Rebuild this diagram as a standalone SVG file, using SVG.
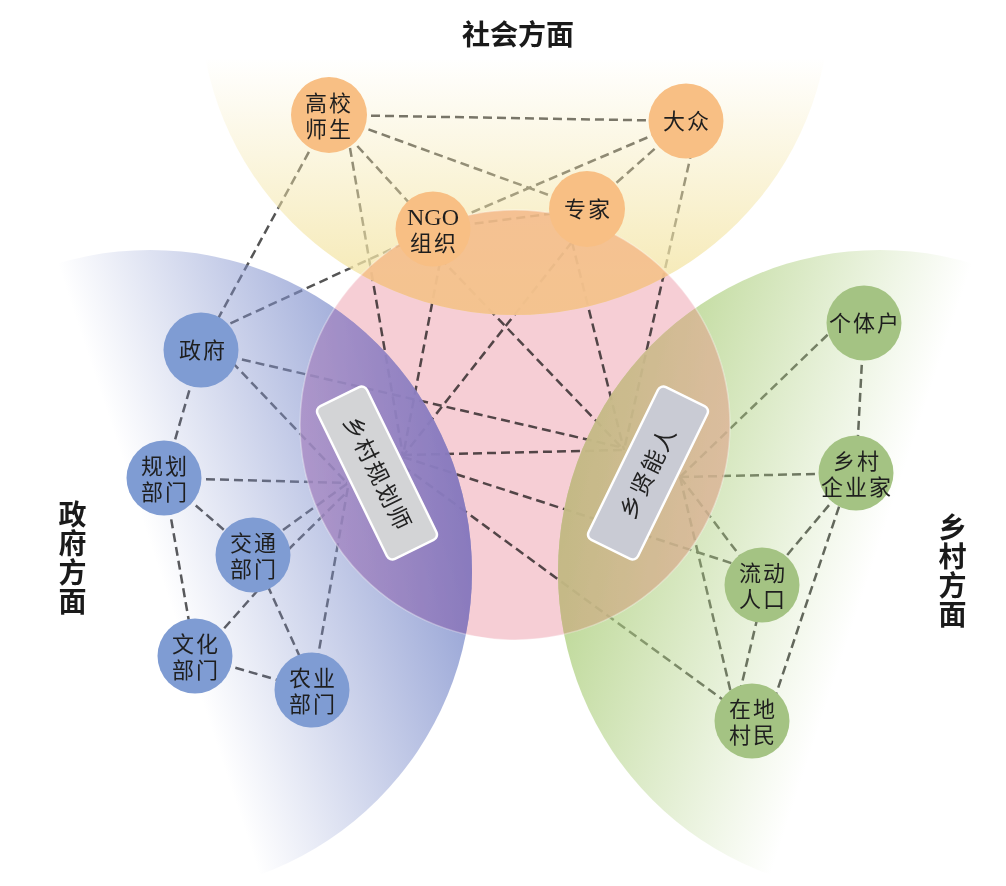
<svg xmlns="http://www.w3.org/2000/svg" width="1006" height="886" viewBox="0 0 1006 886">
<defs>
<style>
.conn line{stroke:#555;stroke-width:2.5;stroke-dasharray:9 5;fill:none;stroke-linecap:butt}
.nd text,.nd tspan{font-family:"Liberation Sans","Noto Sans CJK SC",sans-serif;font-size:22px;fill:#1e1e1e;text-anchor:middle;dominant-baseline:central;letter-spacing:2px}
.nd text.lat,.nd tspan.lat{font-family:"Liberation Serif","Noto Sans CJK SC",serif;font-size:24px;letter-spacing:0}
.soc circle{fill:#f8bf84}
.gov circle{fill:#7f9cd3}
.rur circle{fill:#a4c383}
.title{font-family:"Liberation Sans","Noto Sans CJK SC",sans-serif;font-size:28px;font-weight:700;fill:#1a1a1a;text-anchor:middle;dominant-baseline:central}
.vert{writing-mode:vertical-rl;letter-spacing:1px}
.hub rect{stroke:#fff;stroke-width:2.5}
.hub text{font-family:"Liberation Sans","Noto Sans CJK SC",sans-serif;font-size:23px;fill:#222;text-anchor:middle;dominant-baseline:central;letter-spacing:2px}
</style>
<linearGradient id="gTop" gradientUnits="userSpaceOnUse" x1="0" y1="58" x2="0" y2="300">
<stop offset="0" stop-color="#f4e6a9" stop-opacity="0"/>
<stop offset="1" stop-color="#f4e6a9" stop-opacity="0.9"/>
</linearGradient>
<linearGradient id="gGov" gradientUnits="userSpaceOnUse" x1="59" y1="268" x2="359" y2="169">
<stop offset="0" stop-color="#8191cd" stop-opacity="0"/>
<stop offset="1" stop-color="#8191cd" stop-opacity="0.9"/>
</linearGradient>
<linearGradient id="gRur" gradientUnits="userSpaceOnUse" x1="971" y1="268" x2="671" y2="169">
<stop offset="0" stop-color="#afd081" stop-opacity="0"/>
<stop offset="1" stop-color="#afd081" stop-opacity="0.9"/>
</linearGradient>
<linearGradient id="gPur" gradientUnits="userSpaceOnUse" x1="300" y1="0" x2="472" y2="0">
<stop offset="0" stop-color="#a98fc8"/>
<stop offset="1" stop-color="#8670b8"/>
</linearGradient>
<linearGradient id="gOli" gradientUnits="userSpaceOnUse" x1="560" y1="0" x2="730" y2="0">
<stop offset="0" stop-color="#c8b284"/>
<stop offset="1" stop-color="#dfb79b"/>
</linearGradient>
<clipPath id="cTop"><circle cx="515" cy="0" r="315"/></clipPath>
<clipPath id="cGov"><circle cx="150" cy="572" r="322"/></clipPath>
<clipPath id="cRur"><circle cx="880" cy="572" r="322"/></clipPath>
</defs>

<rect x="0" y="0" width="1006" height="886" fill="#ffffff"/>
<circle id="core" cx="515" cy="425" r="215" fill="#f6ced5"/>

<g id="connectors" class="conn" style="mix-blend-mode:multiply">
<line x1="329" y1="115" x2="686" y2="121"/>
<line x1="329" y1="115" x2="587" y2="209"/>
<line x1="329" y1="115" x2="433" y2="229"/>
<line x1="686" y1="121" x2="433" y2="229"/>
<line x1="686" y1="121" x2="587" y2="209"/>
<line x1="433" y1="229" x2="587" y2="209"/>
<line x1="329" y1="115" x2="201" y2="350"/>
<line x1="205" y1="335" x2="433" y2="230"/>
<line x1="350" y1="148" x2="403" y2="456"/>
<line x1="440" y1="262" x2="403" y2="456"/>
<line x1="440" y1="258" x2="624" y2="450"/>
<line x1="572" y1="242" x2="403" y2="456"/>
<line x1="572" y1="242" x2="624" y2="450"/>
<line x1="692" y1="150" x2="624" y2="450"/>
<line x1="201" y1="350" x2="624" y2="448"/>
<line x1="232" y1="362" x2="347" y2="483"/>
<line x1="164" y1="478" x2="347" y2="483"/>
<line x1="283" y1="530" x2="348" y2="483"/>
<line x1="288" y1="550" x2="348" y2="491"/>
<line x1="312" y1="690" x2="348" y2="487"/>
<line x1="403" y1="455" x2="624" y2="450"/>
<line x1="403" y1="457" x2="762" y2="573"/>
<line x1="403" y1="466" x2="752" y2="721"/>
<line x1="201" y1="350" x2="164" y2="478"/>
<line x1="164" y1="478" x2="253" y2="555"/>
<line x1="164" y1="478" x2="195" y2="656"/>
<line x1="258" y1="590" x2="205" y2="650"/>
<line x1="256" y1="560" x2="314" y2="688"/>
<line x1="195" y1="656" x2="312" y2="690"/>
<line x1="680" y1="477" x2="845" y2="318"/>
<line x1="680" y1="477" x2="856" y2="473"/>
<line x1="680" y1="477" x2="762" y2="585"/>
<line x1="680" y1="477" x2="735" y2="710"/>
<line x1="864" y1="323" x2="856" y2="473"/>
<line x1="856" y1="473" x2="762" y2="585"/>
<line x1="848" y1="480" x2="768" y2="718"/>
<line x1="764" y1="590" x2="738" y2="700"/>
</g>

<g id="fans">
<circle cx="515" cy="0" r="315" fill="url(#gTop)"/>
<circle cx="150" cy="572" r="322" fill="url(#gGov)"/>
<circle cx="880" cy="572" r="322" fill="url(#gRur)"/>
</g>

<g id="overlaps" opacity="0.75">
<circle cx="515" cy="425" r="215" clip-path="url(#cTop)" fill="#f4b886"/>
<circle cx="515" cy="425" r="215" clip-path="url(#cGov)" fill="url(#gPur)"/>
<circle cx="515" cy="425" r="215" clip-path="url(#cRur)" fill="url(#gOli)"/>
</g>
<circle cx="515" cy="425" r="215" fill="none" stroke="#ffffff" stroke-opacity="0.35" stroke-width="1.5"/>

<g id="n-gaoxiao" class="nd soc"><circle cx="329" cy="115" r="38"/><text><tspan x="329" y="102.5">高校</tspan><tspan x="329" y="128.5">师生</tspan></text></g>
<g id="n-dazhong" class="nd soc"><circle cx="686" cy="121" r="37.5"/><text x="687" y="121">大众</text></g>
<g id="n-ngo" class="nd soc"><circle cx="433" cy="229" r="37.5"/><text><tspan class="lat" x="433" y="216.5">NGO</tspan><tspan x="434" y="243">组织</tspan></text></g>
<g id="n-zhuanjia" class="nd soc"><circle cx="587" cy="209" r="38"/><text x="588" y="209">专家</text></g>

<g id="n-zhengfu" class="nd gov"><circle cx="201" cy="350" r="37.5"/><text x="203" y="350">政府</text></g>
<g id="n-guihua" class="nd gov"><circle cx="164" cy="478" r="37.5"/><text><tspan x="165" y="465.5">规划</tspan><tspan x="165" y="491.5">部门</tspan></text></g>
<g id="n-jiaotong" class="nd gov"><circle cx="253" cy="555" r="37.5"/><text><tspan x="254" y="542.5">交通</tspan><tspan x="254" y="568.5">部门</tspan></text></g>
<g id="n-wenhua" class="nd gov"><circle cx="195" cy="656" r="37.5"/><text><tspan x="196" y="643.5">文化</tspan><tspan x="196" y="669.5">部门</tspan></text></g>
<g id="n-nongye" class="nd gov"><circle cx="312" cy="690" r="37.5"/><text><tspan x="313" y="677.5">农业</tspan><tspan x="313" y="703.5">部门</tspan></text></g>

<g id="n-getihu" class="nd rur"><circle cx="864" cy="323" r="37.5"/><text x="865" y="323">个体户</text></g>
<g id="n-qiyejia" class="nd rur"><circle cx="856" cy="473" r="37.5"/><text><tspan x="857" y="460.5">乡村</tspan><tspan x="857" y="486.5">企业家</tspan></text></g>
<g id="n-liudong" class="nd rur"><circle cx="762" cy="585" r="37.5"/><text><tspan x="763" y="572.5">流动</tspan><tspan x="763" y="598.5">人口</tspan></text></g>
<g id="n-cunmin" class="nd rur"><circle cx="752" cy="721" r="37.5"/><text><tspan x="753" y="708.5">在地</tspan><tspan x="753" y="734.5">村民</tspan></text></g>

<g id="n-planner" class="hub" transform="translate(377 473) rotate(64)"><rect x="-85" y="-27.5" width="170" height="55" rx="6" fill="#d3d4d6"/><text x="1" y="0">乡村规划师</text></g>
<g id="n-xianneng" class="hub" transform="translate(648 473) rotate(-64)"><rect x="-85" y="-27.5" width="170" height="55" rx="6" fill="#c9cbd4"/><text x="1" y="0">乡贤能人</text></g>

<g id="titles">
<text class="title" x="518" y="35">社会方面</text>
<text class="title vert" x="70" y="558.5">政府方面</text>
<text class="title vert" x="950" y="571.5">乡村方面</text>
</g>
</svg>
